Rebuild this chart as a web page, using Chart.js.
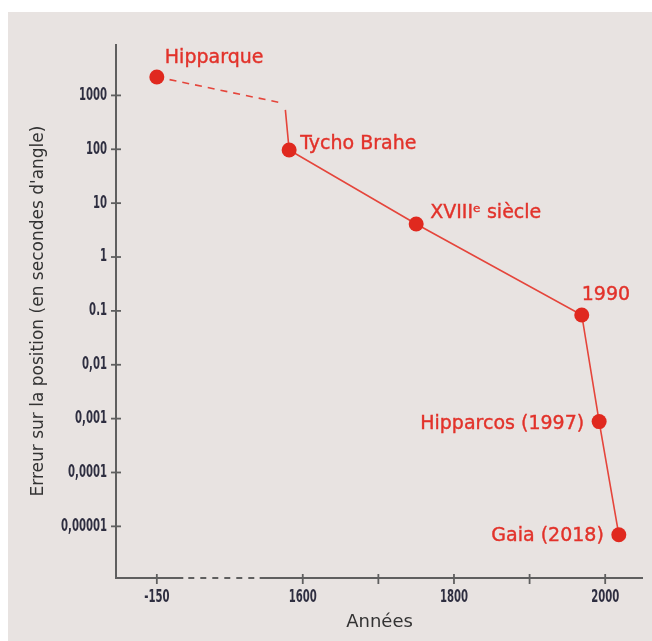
<!DOCTYPE html>
<html>
<head>
<meta charset="utf-8">
<script src="https://cdn.jsdelivr.net/npm/chart.js@4.4.1/dist/chart.umd.min.js"></script>
<style>
  html, body { margin: 0; padding: 0; background: #ffffff; }
  canvas { display: block; }
</style>
</head>
<body>
<canvas id="c" width="652" height="641"></canvas>
<script>
// ---- Data ----
const years  = [-150, 1573, 1577, 1582, 1750, 1969, 1992, 2018];
const errors = [2200, 720, 540, 97, 4.1, 0.084, 0.00088, 0.000007];
const pointLabels = ['Hipparque', '', '', 'Tycho Brahe', 'XVIIIᵉ siècle', '1990', 'Hipparcos (1997)', 'Gaia (2018)'];

const xTickYears  = [-150, 1600, 1700, 1800, 1900, 2000];
const xTickLabels = ['-150', '1600', '', '1800', '', '2000'];
const yTickValues = [1000, 100, 10, 1, 0.1, 0.01, 0.001, 0.0001, 0.00001];
const yTickLabels = ['1000', '100', '10', '1', '0.1', '0,01', '0,001', '0,0001', '0,00001'];

const xTitle = 'Années';
const yTitle = "Erreur sur la position (en secondes d'angle)";

// broken x axis: antiquity is drawn at a compressed position left of the break
const ANTIQUITY_POS = 1407;
function axisYear(y) { return y < 1000 ? ANTIQUITY_POS : y; }

const RED = '#e0291f';
const LINE_RED = '#e5453b';
const LABEL_RED = '#e2322a';
const AXIS = '#5f5f5f';
const TICK_TEXT = '#2e2e40';
const TICK_FONT = 'bold 17px "DejaVu Sans Condensed", "DejaVu Sans", sans-serif';
const TICK_SQUEEZE = 0.66;

// label placement relative to the marker (dx, dy, align)
const labelPlacement = [
  [8, -19, 'left'], null, null,
  [11, -6, 'left'],
  [14, -11, 'left'],
  [0, -20, 'left'],
  [-15, 2, 'right'],
  [-15, 1, 'right']
];

const points = years.map((y, i) => ({ x: axisYear(y), y: errors[i] }));
const radii = pointLabels.map(l => l ? 7.5 : 0);

const bgPlugin = {
  id: 'bg',
  beforeDraw(chart) {
    const ctx = chart.ctx;
    ctx.save();
    ctx.fillStyle = '#ffffff';
    ctx.fillRect(0, 0, chart.width, chart.height);
    ctx.fillStyle = '#e8e3e1';
    ctx.fillRect(8, 12, chart.width - 8, chart.height - 12);
    ctx.restore();
  }
};

function squeezedText(ctx, text, x, y, align) {
  ctx.save();
  ctx.translate(x, y);
  ctx.scale(TICK_SQUEEZE, 1);
  ctx.textAlign = align;
  ctx.fillText(text, 0, 0);
  ctx.restore();
}

const axesPlugin = {
  id: 'axesBroken',
  beforeDatasetsDraw(chart) {
    const ctx = chart.ctx;
    const xs = chart.scales.x, ys = chart.scales.y;
    const a = chart.chartArea;
    ctx.save();
    ctx.strokeStyle = AXIS;
    ctx.lineWidth = 2;
    // y axis
    ctx.beginPath();
    ctx.moveTo(a.left, a.top);
    ctx.lineTo(a.left, a.bottom + 1);
    ctx.stroke();
    // x axis with dashed break
    const b1 = xs.getPixelForValue(1442), b2 = xs.getPixelForValue(1543);
    ctx.beginPath();
    ctx.moveTo(a.left - 1, a.bottom); ctx.lineTo(b1, a.bottom);
    ctx.moveTo(b2, a.bottom); ctx.lineTo(a.right, a.bottom);
    ctx.stroke();
    ctx.setLineDash([6, 6]);
    ctx.beginPath();
    ctx.moveTo(b1 + 5, a.bottom); ctx.lineTo(b2, a.bottom);
    ctx.stroke();
    ctx.setLineDash([]);
    // tick marks
    ctx.lineWidth = 1.8;
    xs.ticks.forEach(t => {
      const px = xs.getPixelForValue(t.value);
      ctx.beginPath();
      ctx.moveTo(px, a.bottom - 4); ctx.lineTo(px, a.bottom + 6);
      ctx.stroke();
    });
    ys.ticks.forEach(t => {
      const py = ys.getPixelForValue(t.value);
      ctx.beginPath();
      ctx.moveTo(a.left - 5, py); ctx.lineTo(a.left + 5, py);
      ctx.stroke();
    });
    // tick labels (condensed face)
    ctx.fillStyle = TICK_TEXT;
    ctx.font = TICK_FONT;
    ctx.textBaseline = 'middle';
    xs.ticks.forEach((t, i) => {
      squeezedText(ctx, xTickLabels[i], xs.getPixelForValue(t.value), a.bottom + 20, 'center');
    });
    ys.ticks.forEach((t, i) => {
      squeezedText(ctx, yTickLabels[i], a.left - 9, ys.getPixelForValue(t.value), 'right');
    });
    ctx.restore();
  }
};

const labelPlugin = {
  id: 'pointLabels',
  afterDatasetsDraw(chart) {
    const ctx = chart.ctx;
    const meta = chart.getDatasetMeta(0);
    ctx.save();
    ctx.fillStyle = LABEL_RED;
    ctx.strokeStyle = LABEL_RED;
    ctx.lineWidth = 0.4;
    ctx.font = '19px "DejaVu Sans", sans-serif';
    ctx.textBaseline = 'middle';
    meta.data.forEach((el, i) => {
      const p = labelPlacement[i];
      if (!p || !pointLabels[i]) return;
      ctx.textAlign = p[2];
      ctx.fillText(pointLabels[i], el.x + p[0], el.y + p[1]);
      ctx.strokeText(pointLabels[i], el.x + p[0], el.y + p[1]);
    });
    ctx.restore();
  }
};

new Chart(document.getElementById('c'), {
  type: 'line',
  data: {
    datasets: [{
      data: points,
      borderColor: LINE_RED,
      borderWidth: 1.6,
      backgroundColor: RED,
      pointBackgroundColor: RED,
      pointBorderColor: RED,
      pointBorderWidth: 0,
      pointRadius: radii,
      pointHoverRadius: radii,
      tension: 0,
      fill: false,
      segment: {
        borderDash: ctx => ctx.p0DataIndex === 0 ? [7, 6] : undefined,
        borderColor: ctx => ctx.p0DataIndex === 1 ? 'rgba(0,0,0,0)' : LINE_RED
      }
    }]
  },
  options: {
    responsive: false,
    animation: false,
    events: [],
    layout: { padding: { top: 44, right: 9, left: 0, bottom: 0 } },
    plugins: { legend: { display: false }, tooltip: { enabled: false } },
    scales: {
      x: {
        type: 'linear',
        min: 1353,
        max: 2050,
        afterFit(s) { s.height = 63; },
        afterBuildTicks(s) { s.ticks = xTickYears.map(y => ({ value: axisYear(y) })); },
        grid: { display: false, drawTicks: false },
        border: { display: false },
        ticks: { display: false },
        title: {
          display: true,
          text: xTitle,
          color: '#333333',
          font: { family: '"DejaVu Sans", sans-serif', size: 18 },
          padding: { top: 0, bottom: 8 }
        }
      },
      y: {
        type: 'logarithmic',
        min: 1.1e-6,
        max: 9000,
        afterFit(s) { s.width = 116; },
        afterBuildTicks(s) { s.ticks = yTickValues.map(v => ({ value: v })); },
        grid: { display: false, drawTicks: false },
        border: { display: false },
        ticks: { display: false },
        title: {
          display: true,
          text: yTitle,
          color: '#333333',
          font: { family: '"DejaVu Sans", sans-serif', size: 17 },
          padding: { top: 28, bottom: 0 }
        }
      }
    }
  },
  plugins: [bgPlugin, axesPlugin, labelPlugin]
});
</script>
</body>
</html>
